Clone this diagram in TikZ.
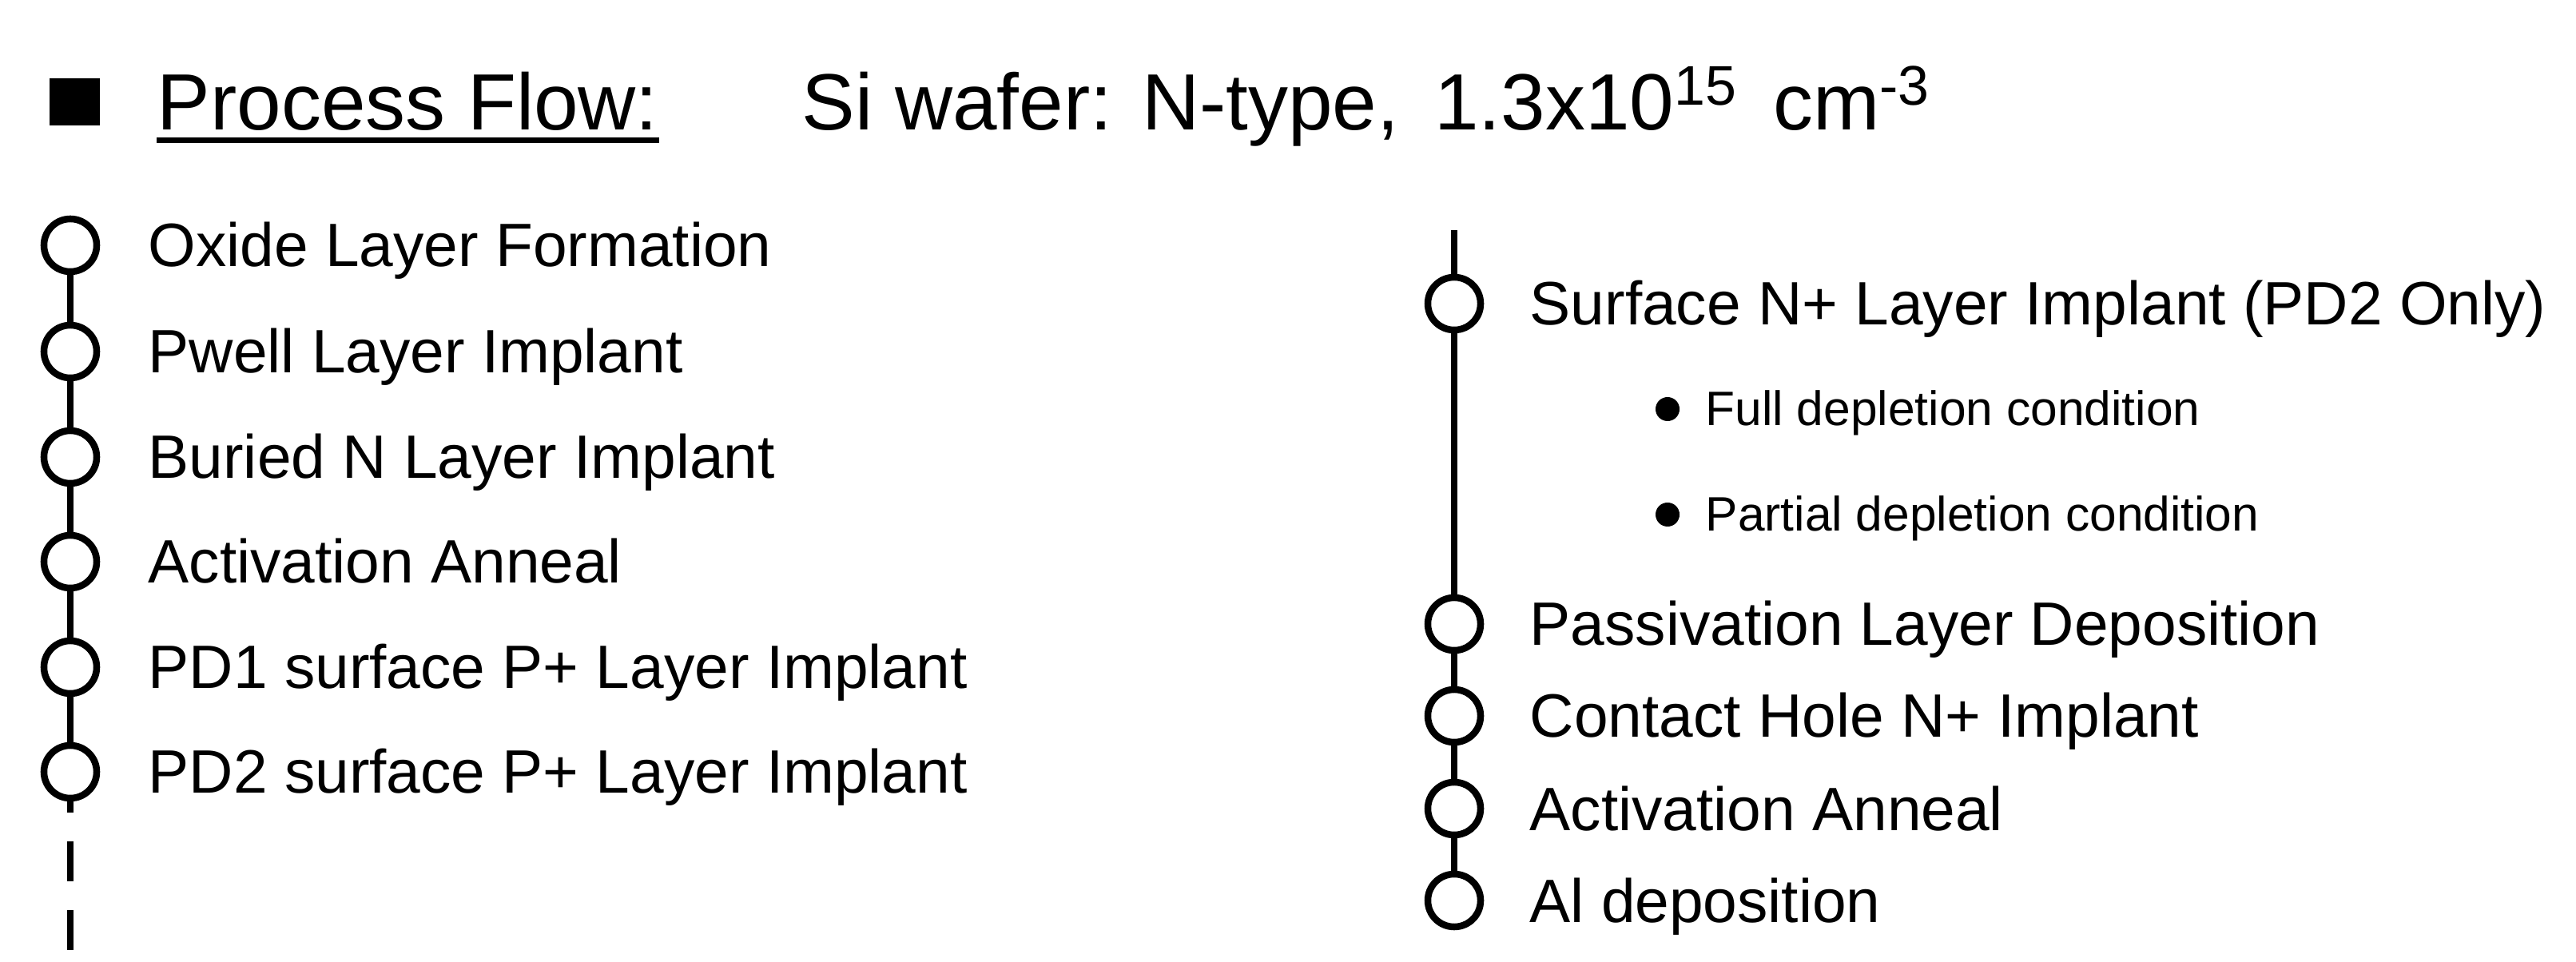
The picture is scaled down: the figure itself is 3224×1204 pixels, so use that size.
\documentclass[tikz,border=0pt]{standalone}
\usepackage{fontspec}
\setmainfont{Liberation Sans}
\begin{document}
\begin{tikzpicture}[x=0.01cm,y=-0.01cm,
  stepc/.style={circle,draw,line width=0.085cm,minimum size=0.66cm,inner sep=0pt,fill=white},
  lbl/.style={anchor=base west,inner sep=0pt,font=\fontsize{21.8}{26}\selectfont},
  sub/.style={anchor=base west,inner sep=0pt,font=\fontsize{17.2}{20}\selectfont},
  ttl/.style={anchor=base west,inner sep=0pt,font=\fontsize{28.4}{32}\selectfont},
  conn/.style={line width=0.085cm}]
\useasboundingbox (0,0) rectangle (3224,1204);
\fill (62,98) rectangle (125,157);
\node[ttl] (pf) at (196,163) {Process Flow:};
\fill ([yshift=-0.09cm]pf.base west) rectangle ([yshift=-0.16cm]pf.base east);
\node[ttl] (si) at (1003,163) {Si wafer: N-type,\, 1.3x10\textsuperscript{15} \,cm\textsuperscript{-3}};
% left column
\coordinate (lend) at (88,1017);
\coordinate (lbot) at (88,1204);
\draw[conn] (88,307) -- (lend);
\draw[conn,dash pattern=on 0.5cm off 0.36cm] (88,1053) -- (lbot);
\foreach \y/\t/\n in {307/Oxide Layer Formation/a,440/Pwell Layer Implant/b,572/Buried N Layer Implant/c,703/Activation Anneal/d,835/PD1 surface P+ Layer Implant/e,966/PD2 surface P+ Layer Implant/f}{
  \node[stepc] (c\n) at (88,\y) {};
  \node[lbl] (t\n) at (185,\y+27) {\t};
}
% right column
\coordinate (rtop) at (1820,288);
\draw[conn] (rtop) -- (1820,1127);
\foreach \y/\t/\n in {380/Surface N+ Layer Implant (PD2 Only)/g,781/Passivation Layer Deposition/h,896/Contact Hole N+ Implant/i,1012/Activation Anneal/j,1127/Al deposition/k}{
  \node[stepc] (c\n) at (1820,\y) {};
  \node[lbl] (t\n) at (1914,\y+27) {\t};
}
\fill (2087,512) circle (0.15cm);
\node[sub] (s1) at (2134,533) {Full depletion condition};
\fill (2087,644) circle (0.15cm);
\node[sub] (s2) at (2134,665) {Partial depletion condition};
\end{tikzpicture}
\end{document}
